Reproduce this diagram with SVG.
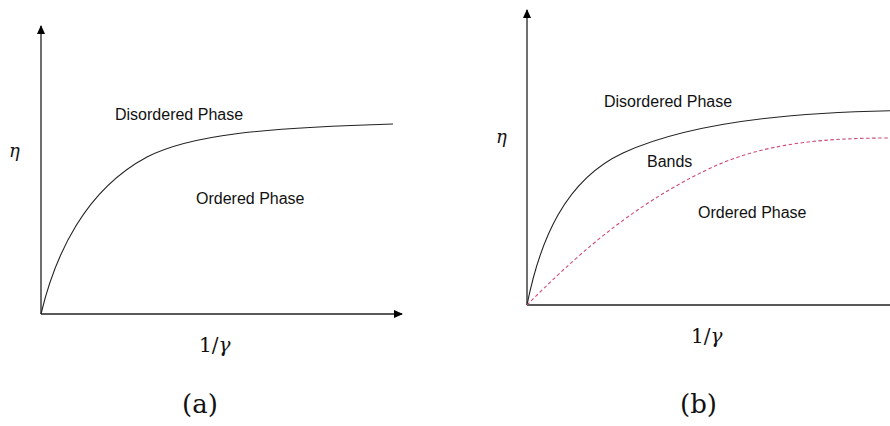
<svg xmlns="http://www.w3.org/2000/svg" width="890" height="426" viewBox="0 0 890 426">
<style>
.lbl{font-family:"Liberation Sans",Arial,sans-serif;font-size:16px;fill:#111}
.math{font-family:"DejaVu Serif","Liberation Serif",serif;fill:#111}
.it{font-style:italic}
.axis{stroke:#222;stroke-width:1.3;fill:none}
.curve{stroke:#222;stroke-width:1.1;fill:none}
.dash{stroke:#cc4a78;stroke-width:1.1;fill:none;stroke-dasharray:3.5 2.5}
</style>
<defs>
<marker id="ah" markerWidth="9" markerHeight="8" refX="8" refY="4" orient="auto" markerUnits="userSpaceOnUse">
<path d="M0,0 L9,4 L0,8 Z" fill="#000"/>
</marker>
</defs>
<rect width="890" height="426" fill="#fff"/>
<g id="panel-a">
<g id="axes-a">
<line class="axis" x1="41" y1="314" x2="41" y2="26" marker-end="url(#ah)"/>
<line class="axis" x1="41" y1="314" x2="402" y2="314" marker-end="url(#ah)"/>
</g>
<path id="curve-a" class="curve" d="M41,314 C55,255 85,190 147,157 C190,135 260,128 393,124"/>
<text class="lbl" x="115" y="120">Disordered Phase</text>
<text class="lbl" x="196" y="204">Ordered Phase</text>
<text class="math it" x="9" y="157" font-size="18">η</text>
<text class="math" x="199" y="352" font-size="20">1/<tspan class="it">γ</tspan></text>
<text class="math" x="182" y="413" font-size="26">(a)</text>
</g>
<g id="panel-b">
<g id="axes-b">
<line class="axis" x1="527" y1="305" x2="527" y2="10" marker-end="url(#ah)"/>
<line class="axis" x1="527" y1="305" x2="890" y2="305"/>
</g>
<path id="curve-b" class="curve" d="M527,305 C540,240 565,180 623,153 C675,129 760,113 890,110.7"/>
<path id="curve-b-dashed" class="dash" d="M527,305 C570,262 630,205 713,167 C765,143 825,138 890,138"/>
<text class="lbl" x="604" y="107">Disordered Phase</text>
<text class="lbl" x="647" y="167">Bands</text>
<text class="lbl" x="698" y="218">Ordered Phase</text>
<text class="math it" x="496" y="143" font-size="18">η</text>
<text class="math" x="691" y="343" font-size="20">1/<tspan class="it">γ</tspan></text>
<text class="math" x="680" y="413" font-size="26">(b)</text>
</g>
</svg>
